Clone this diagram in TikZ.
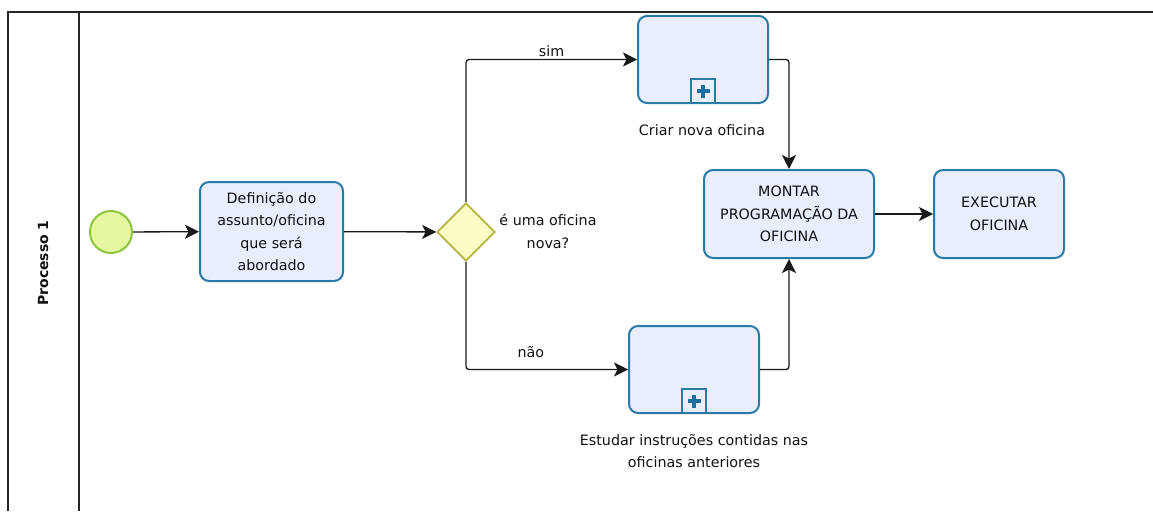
\documentclass[tikz,border=0pt]{standalone}
\usepackage{fontspec}
\setmainfont{DejaVu Sans}
\usetikzlibrary{shapes.geometric,arrows.meta,positioning,calc}
\definecolor{taskline}{HTML}{2A7AA8}
\definecolor{taskfill}{HTML}{E9EEFC}
\definecolor{startline}{HTML}{8CC43C}
\definecolor{startfill}{HTML}{E6F7A2}
\definecolor{gateline}{HTML}{B5B43C}
\definecolor{gatefill}{HTML}{FBFBC4}
\definecolor{markfill}{HTML}{1F6E9E}
\definecolor{inktext}{HTML}{111111}
\tikzset{
  task/.style={draw=taskline, fill=taskfill, line width=2pt, rounded corners=9pt,
    align=center, text=inktext, font=\fontsize{14.3}{22.5}\selectfont, inner sep=0pt},
  startev/.style={circle, draw=startline, fill=startfill, line width=2pt,
    minimum size=42pt, inner sep=0pt},
  gate/.style={diamond, draw=gateline, fill=gatefill, line width=1.8pt,
    minimum width=58pt, minimum height=58pt, inner sep=0pt},
  flow/.style={draw=black!90, line width=1.3pt, rounded corners=3pt,
    -{Stealth[length=14pt,width=14pt,inset=3.5pt]}},
  lbl/.style={text=inktext, font=\fontsize{14.3}{22.5}\selectfont, align=center, inner sep=0pt},
  lane/.style={draw=black!85, line width=1.4pt},
  markbox/.style={draw=taskline, fill=taskfill, line width=1.8pt, minimum width=24pt,
    minimum height=24pt, inner sep=0pt}
}
\begin{document}
\begin{tikzpicture}[x=1pt,y=-1pt]
\useasboundingbox (0,0) rectangle (1153,511);
% lane frame
\draw[lane] (8,511) -- (8,12) -- (1153,12);
\draw[lane] (79,12) -- (79,511);
\node[rotate=90, font=\fontsize{14}{16}\selectfont\bfseries, text=inktext] (lanelbl) at (43,263) {Processo 1};

% flow objects
\node[startev] (start) at (111,232) {};
\node[task, minimum width=143pt, minimum height=99pt] (def) at (271.5,231.5)
  {Definição do\\assunto/oficina\\que será\\abordado};
\node[gate] (gw) at (466,232) {};
\node[lbl] (gwl) at (548,231.5) {é uma oficina\\nova?};

\node[task, minimum width=130pt, minimum height=87pt] (criar) at (703,59.5) {};
\node[markbox, anchor=south] (criarmk) at (criar.south) {};
\fill[markfill] ($(criarmk.center)+(-1.8,-6.5)$) rectangle ($(criarmk.center)+(1.8,6.5)$);
\fill[markfill] ($(criarmk.center)+(-6.5,-1.8)$) rectangle ($(criarmk.center)+(6.5,1.8)$);
\node[lbl] (criarl) at (702,130) {Criar nova oficina};

\node[task, minimum width=130pt, minimum height=87pt] (estudar) at (694,369.5) {};
\node[markbox, anchor=south] (estudarmk) at (estudar.south) {};
\fill[markfill] ($(estudarmk.center)+(-1.8,-6.5)$) rectangle ($(estudarmk.center)+(1.8,6.5)$);
\fill[markfill] ($(estudarmk.center)+(-6.5,-1.8)$) rectangle ($(estudarmk.center)+(6.5,1.8)$);
\node[lbl] (estudarl) at (694,451) {Estudar instruções contidas nas\\oficinas anteriores};

\node[task, minimum width=170pt, minimum height=88pt] (montar) at (789,214)
  {MONTAR\\PROGRAMAÇÃO DA\\OFICINA};
\node[task, minimum width=130pt, minimum height=88pt] (exec) at (999,214)
  {EXECUTAR\\OFICINA};

% sequence flows
\draw[flow] (start) -- (def);
\draw[flow] (def) -- (gw);
\draw[flow] (gw.north) |- node[lbl, pos=0.75, above=2pt] (siml) {sim} (criar.west);
\draw[flow] (gw.south) |- node[lbl, pos=0.7, above=11pt] (naol) {não} (estudar.west);
\draw[flow] (criar.east) -| (montar.north);
\draw[flow] (estudar.east) -| (montar.south);
\draw[flow] (montar) -- (exec);
\end{tikzpicture}
\end{document}
